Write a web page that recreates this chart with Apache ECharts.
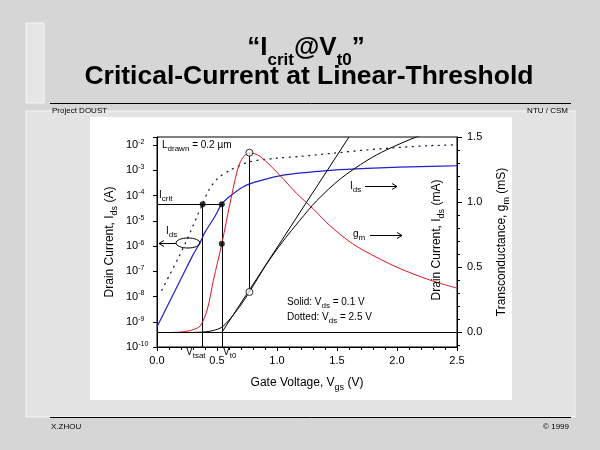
<!DOCTYPE html>
<html>
<head>
<meta charset="utf-8">
<script src="https://cdn.jsdelivr.net/npm/echarts@6/dist/echarts.min.js"></script>
<style>
    html, body {margin: 0; padding: 0; background: #d6d6d6;}
    #chart {width: 600px; height: 450px;}
</style>
</head>
<body>
<div id="chart"></div>
<script>
// values: [Vgs (V), value]
// log10 of Ids (A), Vds = 0.1 V (solid blue)
const idsLogLin = [[0, -9.2], [0.1, -8.25], [0.2, -7.3], [0.3, -6.35], [0.36, -5.85], [0.4, -5.45],
    [0.48, -4.85], [0.54, -4.34], [0.61, -4.02], [0.72, -3.65], [0.83, -3.45], [1.05, -3.19],
    [1.47, -2.99], [1.75, -2.92], [2.28, -2.84], [2.5, -2.82]];
// log10 of Ids (A), Vds = 2.5 V (dotted)
const idsLogSat = [[0.04, -7.75], [0.11, -7.1], [0.18, -6.45], [0.24, -5.85], [0.3, -5.2], [0.34, -4.75],
    [0.38, -4.34], [0.43, -3.8], [0.5, -3.35], [0.61, -2.99], [0.775, -2.66], [1.0, -2.52],
    [1.19, -2.45], [1.47, -2.32], [1.75, -2.19], [2.03, -2.09], [2.28, -2.02], [2.5, -1.99]];
// transconductance gm (mS), Vds = 0.1 V
const gm = [[0.12, 0], [0.2, 0.003], [0.28, 0.015], [0.36, 0.05], [0.42, 0.18], [0.47, 0.4], [0.54, 0.68],
    [0.62, 1.04], [0.69, 1.3], [0.77, 1.38], [0.86, 1.35], [1.02, 1.21], [1.16, 1.07], [1.3, 0.95],
    [1.44, 0.82], [1.6, 0.7], [1.72, 0.63], [2.0, 0.5], [2.28, 0.4], [2.5, 0.34]];
// Ids (mA), linear, Vds = 0.1 V
const idsLin = [[0.3, 0], [0.4, 0.004], [0.47, 0.015], [0.54, 0.04], [0.61, 0.105], [0.69, 0.2],
    [0.77, 0.31], [0.91, 0.52], [1.05, 0.7], [1.19, 0.86], [1.33, 1.01], [1.53, 1.18], [1.75, 1.32],
    [1.91, 1.4], [2.16, 1.5], [2.5, 1.62]];
// linear extrapolation at max gm
const tangent = [[0.54, 0], [1.6, 1.5]];

const vTsat = 0.38;
const vT0 = 0.54;
const logIcrit = -4.34;
const gmPeak = [0.77, 1.38];
const idsAtPeak = [0.77, 0.31];
const gmAtVt0 = [0.54, 0.68];

const rightMajor = [0, 0.5, 1, 1.5];
const rightMinor = [-0.1, 0.1, 0.2, 0.3, 0.4, 0.6, 0.7, 0.8, 0.9, 1.1, 1.2, 1.3, 1.4];

const FONT = 'Liberation Sans, Arial, sans-serif';
const BLACK = '#000';
const rich = {
    sub: {fontSize: 8, padding: [8, 0, 0, 0]},
    sup: {fontSize: 7, padding: [0, 0, 6, 0]}
};
const richBig = {
    sub: {fontSize: 9, padding: [9, 0, 0, 0]}
};

function note(x, y, text) {
    return {
        type: 'text', x: x, y: y, z: 20,
        style: {
            text: text, fontSize: 10, fontFamily: FONT, fill: BLACK,
            align: 'left', verticalAlign: 'middle', rich: rich
        }
    };
}
function seg(x1, y1, x2, y2) {
    return {type: 'line', z: 20, shape: {x1: x1, y1: y1, x2: x2, y2: y2}, style: {stroke: BLACK, lineWidth: 1}};
}
function head(points) {
    return {type: 'polyline', z: 20, shape: {points: points}, style: {stroke: BLACK, lineWidth: 1, fill: null}};
}

const chart = echarts.init(document.getElementById('chart'));

const option = {
    animation: false,
    backgroundColor: '#d6d6d6',
    grid: {
        left: 157, top: 137, width: 300, height: 210,
        show: true, borderColor: BLACK, borderWidth: 1, backgroundColor: 'transparent'
    },
    xAxis: {
        type: 'value', min: 0, max: 2.5, interval: 0.5,
        axisLine: {onZero: false, lineStyle: {color: BLACK}},
        axisTick: {length: 4, lineStyle: {color: BLACK}},
        minorTick: {show: true, splitNumber: 5, length: 3, lineStyle: {color: BLACK}},
        splitLine: {show: false},
        axisLabel: {
            color: BLACK, fontSize: 11, fontFamily: FONT, margin: 8,
            formatter: function(v) { return v.toFixed(1); }
        },
        name: 'Gate Voltage, V{sub|gs} (V)',
        nameLocation: 'middle', nameGap: 27,
        nameTextStyle: {color: BLACK, fontSize: 12, fontFamily: FONT, rich: richBig}
    },
    yAxis: [
        {
            type: 'value', position: 'left', min: -10, max: -1.68, interval: 1,
            axisLine: {show: true, lineStyle: {color: BLACK}},
            axisTick: {show: true, length: 4, lineStyle: {color: BLACK}},
            splitLine: {show: false},
            axisLabel: {
                color: BLACK, fontSize: 11, fontFamily: FONT, align: 'left', margin: 31, rich: rich,
                formatter: function(v) {
                    let n = Math.round(v);
                    return Math.abs(v - n) < 1e-6 ? '10{sup|' + n + '}' : '';
                }
            },
            name: 'Drain Current, I{sub|ds} (A)',
            nameLocation: 'middle', nameRotate: 90, nameGap: 38,
            nameTextStyle: {color: BLACK, fontSize: 12, fontFamily: FONT, rich: richBig}
        },
        {
            type: 'value', position: 'right', min: -0.112, max: 1.5,
            axisLine: {show: true, lineStyle: {color: BLACK}},
            axisTick: {show: true, length: 5, customValues: rightMajor, lineStyle: {color: BLACK}},
            splitLine: {show: false},
            axisLabel: {
                color: BLACK, fontSize: 11, fontFamily: FONT, margin: 10, customValues: rightMajor,
                formatter: function(v) { return v.toFixed(1); }
            },
            name: 'Transconductance, g{sub|m} (mS)',
            nameLocation: 'middle', nameRotate: 90, nameGap: 36,
            nameTextStyle: {color: BLACK, fontSize: 12, fontFamily: FONT, rich: richBig}
        },
        {
            type: 'value', position: 'right', min: -0.112, max: 1.5,
            axisLine: {show: false},
            axisTick: {show: true, length: 3, customValues: rightMinor, lineStyle: {color: BLACK}},
            axisLabel: {show: false},
            splitLine: {show: false}
        }
    ],
    series: [
        {
            name: 'Ids log, Vds 0.1', type: 'line', yAxisIndex: 0, data: idsLogLin,
            showSymbol: false, smooth: 0.3,
            lineStyle: {color: '#1f1fd0', width: 1.2}
        },
        {
            name: 'Ids log, Vds 2.5', type: 'line', yAxisIndex: 0, data: idsLogSat,
            showSymbol: false, smooth: 0.3,
            lineStyle: {color: '#1a1a48', width: 1.3, type: [1, 5.5], cap: 'round'}
        },
        {
            name: 'gm', type: 'line', yAxisIndex: 1, data: gm,
            showSymbol: false, smooth: 0.3,
            lineStyle: {color: '#e0141e', width: 1}
        },
        {
            name: 'Ids lin', type: 'line', yAxisIndex: 1, data: idsLin,
            showSymbol: false, smooth: 0.3,
            lineStyle: {color: BLACK, width: 1},
            markLine: {
                silent: true, symbol: 'none', label: {show: false},
                lineStyle: {color: BLACK, width: 1.2, type: 'solid'},
                data: [{yAxis: 0}]
            }
        },
        {
            name: 'tangent', type: 'line', yAxisIndex: 1, data: tangent,
            showSymbol: false, lineStyle: {color: BLACK, width: 1}
        },
        {
            name: 'Icrit construction', type: 'lines', coordinateSystem: 'cartesian2d', yAxisIndex: 0,
            lineStyle: {color: BLACK, width: 1, opacity: 1},
            data: [
                {coords: [[0, logIcrit], [vT0, logIcrit]]},
                {coords: [[vTsat, logIcrit], [vTsat, -10]]},
                {coords: [[vT0, logIcrit], [vT0, -10]]}
            ]
        },
        {
            name: 'peak drop', type: 'lines', coordinateSystem: 'cartesian2d', yAxisIndex: 1,
            lineStyle: {color: BLACK, width: 1, opacity: 1},
            data: [{coords: [gmPeak, idsAtPeak]}]
        },
        {
            name: 'open marks', type: 'scatter', yAxisIndex: 1, z: 5,
            data: [gmPeak, idsAtPeak], symbol: 'circle', symbolSize: 7,
            itemStyle: {color: '#fff', borderColor: BLACK, borderWidth: 1}
        },
        {
            name: 'crit marks', type: 'scatter', yAxisIndex: 0, z: 5,
            data: [[vTsat, logIcrit], [vT0, logIcrit]], symbolSize: 6,
            itemStyle: {color: BLACK}
        },
        {
            name: 'gm mark', type: 'scatter', yAxisIndex: 1, z: 5,
            data: [gmAtVt0], symbolSize: 6,
            itemStyle: {color: BLACK}
        }
    ],
    graphic: [
        // slide frame
        {type: 'rect', z: -10, shape: {x: 26, y: 111, width: 549, height: 306},
            style: {fill: '#e3e3e3', stroke: '#f6f6f6', lineWidth: 1}},
        {type: 'rect', z: -10, shape: {x: 26, y: 23, width: 18, height: 80},
            style: {fill: '#e6e6e6', stroke: '#f6f6f6', lineWidth: 1}},
        {type: 'rect', z: -9, shape: {x: 90, y: 117, width: 422, height: 283},
            style: {fill: '#fff'}},
        {type: 'line', z: -8, shape: {x1: 50, y1: 103.5, x2: 571, y2: 103.5}, style: {stroke: BLACK, lineWidth: 1}},
        {type: 'line', z: -8, shape: {x1: 50, y1: 417.5, x2: 571, y2: 417.5}, style: {stroke: BLACK, lineWidth: 1}},
        {type: 'text', x: 306, y: 48, style: {
            text: '\u201cI{sub|crit}@V{sub|t0}\u201d', fontSize: 26, fontWeight: 'bold', fontFamily: FONT,
            fill: BLACK, align: 'center', verticalAlign: 'middle',
            rich: {sub: {fontSize: 17, fontWeight: 'bold', padding: [24, 0, 0, 0]}}
        }},
        {type: 'text', x: 309, y: 77, style: {
            text: 'Critical-Current at Linear-Threshold', fontSize: 26.5, fontWeight: 'bold', fontFamily: FONT,
            fill: BLACK, align: 'center', verticalAlign: 'middle'
        }},
        {type: 'text', x: 52, y: 111, style: {text: 'Project DOUST', fontSize: 8, fontFamily: FONT, fill: BLACK, verticalAlign: 'middle'}},
        {type: 'text', x: 568, y: 111, style: {text: 'NTU / CSM', fontSize: 8, fontFamily: FONT, fill: BLACK, align: 'right', verticalAlign: 'middle'}},
        {type: 'text', x: 51, y: 427, style: {text: 'X.ZHOU', fontSize: 8, fontFamily: FONT, fill: BLACK, verticalAlign: 'middle'}},
        {type: 'text', x: 569, y: 427, style: {text: '\u00a9 1999', fontSize: 8, fontFamily: FONT, fill: BLACK, align: 'right', verticalAlign: 'middle'}},
        // plot annotations
        note(162, 145, 'L{sub|drawn} = 0.2 \u00b5m'),
        note(159, 195, 'I{sub|crit}'),
        note(166, 231, 'I{sub|ds}'),
        {type: 'ellipse', z: 20, shape: {cx: 188, cy: 243, rx: 12, ry: 5}, style: {stroke: BLACK, fill: null, lineWidth: 1}},
        seg(176, 243.5, 159, 243.5),
        head([[164, 240.5], [159, 243.5], [164, 246.5]]),
        note(350, 186, 'I{sub|ds}'),
        seg(365, 186.5, 397, 186.5),
        head([[392, 183.5], [397, 186.5], [392, 189.5]]),
        note(353, 234, 'g{sub|m}'),
        seg(370, 235.5, 402, 235.5),
        head([[397, 232.5], [402, 235.5], [397, 238.5]]),
        note(287, 302, 'Solid: V{sub|ds} = 0.1 V'),
        note(287, 317, 'Dotted: V{sub|ds} = 2.5 V'),
        note(186, 352, 'V{sub|tsat}'),
        note(223, 352, 'V{sub|t0}'),
        {type: 'text', x: 437, y: 240, rotation: Math.PI / 2, z: 20, style: {
            text: 'Drain Current, I{sub|ds} (mA)', fontSize: 12, fontFamily: FONT, fill: BLACK,
            align: 'center', verticalAlign: 'middle', rich: richBig
        }}
    ]
};

chart.setOption(option);
</script>
</body>
</html>
